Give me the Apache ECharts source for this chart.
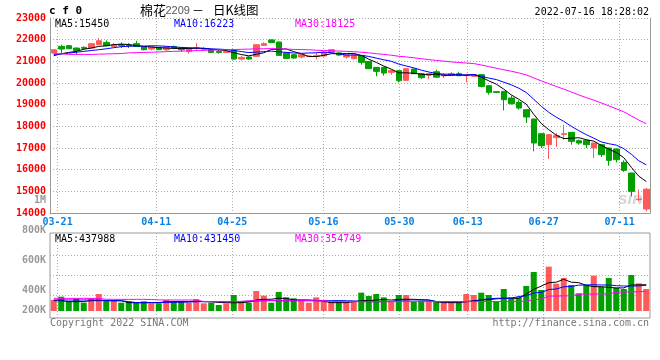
<!DOCTYPE html>
<html><head><meta charset="utf-8">
<script src="https://cdn.jsdelivr.net/npm/echarts@6.0.0/dist/echarts.min.js"></script>
<style>html,body{margin:0;padding:0;background:#fff}#c{width:660px;height:360px}</style>
</head><body><div id="c"></div>
<script>
const dates = ['03-18','03-21','03-22','03-23','03-24','03-25','03-28','03-29','03-30','03-31',
'04-01','04-06','04-07','04-08','04-11','04-12','04-13','04-14','04-15','04-18',
'04-19','04-20','04-21','04-22','04-25','04-26','04-27','04-28','04-29','05-05',
'05-06','05-09','05-10','05-11','05-12','05-13','05-16','05-17','05-18','05-19',
'05-20','05-23','05-24','05-25','05-26','05-27','05-30','05-31','06-01','06-02',
'06-06','06-07','06-08','06-09','06-10','06-13','06-14','06-15','06-16','06-17',
'06-20','06-21','06-22','06-23','06-24','06-27','06-28','06-29','06-30','07-01',
'07-04','07-05','07-06','07-07','07-08','07-11','07-12','07-13','07-14','07-15'];
const dateLabels = ['03-21','04-11','04-25','05-16','05-30','06-13','06-27','07-11'];

const opens = [21383,21690,21721,21613,21644,21613,21767,21874,21690,21767,
21750,21813,21659,21567,21644,21536,21690,21613,21459,21600,
21560,21536,21460,21413,21505,21105,21198,21229,21736,21990,
21892,21384,21305,21198,21220,21230,21245,21428,21390,21200,
21122,21260,20999,20722,20722,20491,20568,20122,20645,20430,
20370,20520,20330,20368,20430,20340,20306,20383,19875,19600,
19614,19306,19106,18768,18337,17660,17153,17476,17630,17722,
17337,17353,17000,17153,17000,16953,16337,15845,14620,14184];
const closes = [21536,21567,21582,21505,21600,21813,21951,21721,21767,21721,
21721,21690,21536,21659,21536,21659,21600,21536,21613,21620,
21590,21413,21413,21460,21105,21182,21105,21767,21813,21870,
21275,21136,21151,21305,21250,21260,21413,21536,21290,21290,
21306,20953,20660,20537,20460,20583,20107,20660,20430,20245,
20440,20270,20380,20430,20337,20370,20383,19844,19568,19567,
19229,19045,18845,18429,17230,17107,17614,17568,17660,17306,
17230,17153,17230,16691,16430,16460,15968,15000,14645,15100];
const lows = [21370,21352,21560,21305,21536,21600,21750,21690,21660,21613,
21613,21660,21505,21505,21520,21459,21560,21444,21352,21505,
21500,21380,21352,21380,21075,21044,21075,21198,21720,21860,
21260,21121,21120,21136,21200,21090,21229,21410,21259,21130,
21100,20845,20640,20306,20337,20380,20030,20100,20410,20180,
20180,20250,20230,20350,20320,20030,20290,19800,19460,19530,
18737,19000,18770,18152,16845,17000,16491,17045,17384,17153,
17150,16998,16537,16584,16183,16337,15900,14769,14538,14076];
const highs = [21550,21767,21740,21644,21690,21830,22074,21967,21844,21874,
21844,21951,21690,21670,21660,21690,21720,21660,21630,21844,
21660,21560,21505,21500,21567,21259,21229,21800,21880,22020,
21905,21400,21320,21320,21280,21400,21420,21560,21413,21300,
21320,21275,21010,20730,20740,20614,20580,20680,20660,20445,
20460,20614,20460,20510,20520,20430,20400,20400,19890,19620,
19630,19420,19200,18780,18350,17680,17630,17691,18076,17740,
17400,17370,17245,17170,17010,16970,16430,15860,15076,15154];

const ma5 = [21260,21350,21410,21460,21558,21613,21690,21718,21770,21795,
21776,21724,21687,21665,21628,21616,21598,21598,21589,21606,
21592,21554,21530,21499,21396,21315,21253,21324,21394,21547,
21566,21572,21449,21347,21223,21220,21276,21353,21350,21358,
21367,21275,21100,20949,20783,20639,20469,20469,20448,20405,
20376,20409,20353,20353,20371,20357,20380,20273,20100,19946,
19718,19451,19251,19023,18556,18131,17845,17590,17436,17451,
17476,17383,17316,17122,16947,16793,16556,16110,15701,15450];
const ma10 = [21320,21340,21380,21420,21459,21500,21536,21580,21630,21676,
21695,21707,21703,21718,21712,21696,21661,21643,21627,21617,
21604,21576,21564,21544,21501,21453,21404,21427,21447,21472,
21440,21413,21386,21371,21385,21393,21424,21401,21349,21291,
21294,21275,21226,21150,21071,21003,20872,20785,20699,20594,
20508,20439,20411,20401,20388,20367,20395,20313,20227,20159,
20038,19915,19762,19562,19251,18925,18648,18420,18229,18003,
17803,17614,17453,17279,17199,17134,16970,16713,16411,16223];
const ma30 = [21350,21350,21320,21320,21320,21320,21330,21340,21350,21360,
21390,21400,21410,21420,21430,21450,21460,21470,21480,21495,
21510,21520,21530,21540,21545,21555,21565,21575,21580,21588,
21580,21565,21551,21544,21533,21514,21496,21490,21474,21460,
21446,21421,21392,21355,21319,21283,21233,21204,21165,21119,
21081,21042,21008,20974,20948,20921,20897,20833,20758,20681,
20613,20543,20466,20371,20237,20098,19972,19839,19718,19585,
19450,19323,19209,19080,18946,18809,18671,18482,18289,18125];

const volumes = [245600,287600,224600,266600,212000,266600,321200,245600,245600,212000,
224600,220400,228800,203600,203600,245600,233000,233000,212000,258200,
203600,212000,182600,203600,308600,224600,212000,359000,300200,212000,
346400,279200,266600,245600,212000,279200,224600,220400,228800,224600,
228800,338000,296000,321200,279200,224600,308600,308600,224600,237200,
237200,228800,224600,224600,228800,321200,308600,338000,308600,224600,
384200,279200,279200,422000,598400,371600,665600,451400,522800,434600,
329600,434600,552200,413600,522800,401000,384200,560600,455600,384200];
const volMa5 = [237000,236500,225000,224000,226000,237000,238000,237000,236000,237000,
212000,211000,212000,213000,212000,225000,224000,225000,226000,230000,
225000,224000,215000,212000,211000,212000,220000,246000,254000,255000,
267000,266000,246000,247000,246000,240000,230000,212000,213000,212000,
225000,237000,238000,245000,250000,245000,254000,255000,254000,250000,
245000,225000,212000,213000,212000,225000,237000,245000,250000,260000,
267000,268000,267000,321000,380000,420000,464000,470000,506000,470000,
464000,430000,414000,413000,405000,397000,398000,435000,436000,437988];
const volMa10 = [246000,245000,246000,244000,246000,245000,244000,240000,237000,236000,
225000,213000,212000,211000,212000,215000,218000,218000,220000,224000,
225000,225000,224000,225000,226000,228000,230000,233000,237000,238000,
237000,236000,237000,238000,237000,237000,236000,237000,238000,236000,
234000,226000,225000,224000,225000,226000,244000,246000,247000,246000,
244000,226000,224000,225000,224000,225000,228000,250000,260000,267000,
268000,267000,290000,298000,335000,340000,378000,384000,412000,416000,
433000,436000,437000,435000,434000,426000,422000,421000,424000,431450];
const volMa30 = [267000,267000,266000,266000,267000,266000,265000,255000,254000,254000,
253000,254000,254000,252000,247000,246000,246000,245000,246000,245000,
226000,225000,225000,224000,225000,226000,236000,237000,237000,238000,
237000,237000,236000,237000,237000,236000,236000,226000,225000,225000,
225000,224000,225000,225000,225000,225000,226000,225000,225000,224000,
225000,225000,225000,226000,225000,225000,225000,226000,226000,227000,
227000,228000,228000,230000,252000,255000,294000,296000,297000,298000,
318000,320000,321000,322000,323000,344000,346000,347000,350000,354749];

const volTickValues = [1000000, 800000, 600000, 400000, 200000];
const volTickLabels = ['1M', '800K', '600K', '400K', '200K'];

const UP = '#ff5a5a', DOWN = '#00a000';
const GRID_LINE = { color: '#aaaaaa', type: [1, 2], width: 1 };
const AXIS_LINE = { color: '#999999', width: 1 };
const MONO = '"DejaVu Sans Mono", "Liberation Mono", monospace';
const volLabelFloor = 266667; // lowest label is pinned inside the panel
const volLabelPos = volTickValues.map(v => Math.max(v, volLabelFloor));
const showDate = (i, v) => dateLabels.includes(v);
const last = a => a[a.length - 1];

const chart = echarts.init(document.getElementById('c'), null, { renderer: 'canvas' });

function txt(x, y, text, fill, font, align, extra) {
  return Object.assign({
    type: 'text', x: x, y: y, z: 100, silent: true,
    style: { text: text, fill: fill, font: font, textAlign: align || 'left', align: align || 'left',
      textVerticalAlign: 'middle', verticalAlign: 'middle' }
  }, extra || {});
}

const option = {
  animation: false,
  backgroundColor: '#ffffff',
  grid: [
    { left: 50, top: 18, width: 600, height: 195, outerBoundsMode: 'none', containLabel: false },
    { left: 50, top: 234, width: 600, height: 77, outerBoundsMode: 'none', containLabel: false },
    { left: 50, top: 233, width: 600, height: 85, outerBoundsMode: 'none', containLabel: false,
      show: true, borderColor: '#999999', borderWidth: 1, backgroundColor: 'transparent' },
    { left: 50, top: 234.6, width: 600, height: 80.8, outerBoundsMode: 'none', containLabel: false },
    { left: 50, top: 170.7, width: 600, height: 180, outerBoundsMode: 'none', containLabel: false }
  ],
  xAxis: [
    { type: 'category', gridIndex: 0, data: dates, boundaryGap: true, show: false },
    { type: 'category', gridIndex: 0, data: dates, boundaryGap: false, position: 'bottom',
      axisLine: { show: true, lineStyle: AXIS_LINE }, axisTick: { show: false },
      axisLabel: { show: true, interval: showDate, color: '#0a80e0', fontFamily: MONO, fontSize: 10,
        fontWeight: 'bold', margin: 4, hideOverlap: false },
      splitLine: { show: true, interval: showDate, lineStyle: GRID_LINE } },
    { type: 'category', gridIndex: 1, data: dates, boundaryGap: true, show: false },
    { type: 'category', gridIndex: 2, data: dates, boundaryGap: false,
      axisLine: { show: false }, axisTick: { show: false }, axisLabel: { show: false },
      splitLine: { show: true, interval: showDate, lineStyle: GRID_LINE } },
    { type: 'category', gridIndex: 3, data: dates, show: false },
    { type: 'category', gridIndex: 4, data: dates, show: false }
  ],
  yAxis: [
    { type: 'value', gridIndex: 0, min: 14000, max: 23000, interval: 1000,
      axisLine: { show: true, lineStyle: AXIS_LINE }, axisTick: { show: false },
      axisLabel: { color: '#ff0000', fontFamily: MONO, fontSize: 10, fontWeight: 'bold', margin: 4,
        padding: [0, 0, 4, 0], formatter: v => String(v) },
      splitLine: { show: true, lineStyle: GRID_LINE } },
    { type: 'value', gridIndex: 0, position: 'right', min: 0, max: 1,
      axisLine: { show: true, lineStyle: AXIS_LINE }, axisTick: { show: false },
      axisLabel: { show: false }, splitLine: { show: false } },
    { type: 'value', gridIndex: 1, min: 107000, max: 1077000, show: false, splitLine: { show: false } },
    { type: 'value', gridIndex: 2, min: 0, max: 1, show: false, splitLine: { show: false } },
    { type: 'value', gridIndex: 3, min: 0, max: 4, interval: 1,
      axisLine: { show: false }, axisTick: { show: false }, axisLabel: { show: false },
      splitLine: { show: true, showMinLine: false, showMaxLine: false, lineStyle: GRID_LINE } },
    { type: 'value', gridIndex: 4, min: 0, max: 1200000,
      axisLine: { show: false }, axisTick: { show: false }, splitLine: { show: false },
      axisLabel: { show: true, customValues: volLabelPos, color: '#999999', fontFamily: MONO,
        fontSize: 10, fontWeight: 'bold', margin: 4, showMinLabel: true, showMaxLabel: true,
        formatter: function (val) {
          const k = volLabelPos.findIndex(p => Math.abs(p - val) < 1);
          return k >= 0 ? volTickLabels[k] : '';
        } } }
  ],
  series: [
    { type: 'candlestick', name: 'K', xAxisIndex: 0, yAxisIndex: 0, barWidth: 6,
      data: opens.map((o, i) => [o, closes[i], lows[i], highs[i]]),
      itemStyle: { color: UP, color0: DOWN, borderColor: UP, borderColor0: DOWN, borderWidth: 1 } },
    { type: 'line', name: 'MA5', xAxisIndex: 0, yAxisIndex: 0, data: ma5, symbol: 'none',
      lineStyle: { color: '#000000', width: 1 }, z: 3 },
    { type: 'line', name: 'MA10', xAxisIndex: 0, yAxisIndex: 0, data: ma10, symbol: 'none',
      lineStyle: { color: '#0000ff', width: 1 }, z: 3 },
    { type: 'line', name: 'MA30', xAxisIndex: 0, yAxisIndex: 0, data: ma30, symbol: 'none',
      lineStyle: { color: '#ff00ff', width: 1 }, z: 3 },
    { type: 'bar', name: 'VOL', xAxisIndex: 2, yAxisIndex: 2, barWidth: 6, clip: true,
      data: volumes.map((v, i) => ({ value: v, itemStyle: { color: closes[i] >= opens[i] ? UP : DOWN } })) },
    { type: 'line', name: 'VMA5', xAxisIndex: 2, yAxisIndex: 2, data: volMa5, symbol: 'none',
      lineStyle: { color: '#000000', width: 1 }, z: 3 },
    { type: 'line', name: 'VMA10', xAxisIndex: 2, yAxisIndex: 2, data: volMa10, symbol: 'none',
      lineStyle: { color: '#0000ff', width: 1 }, z: 3 },
    { type: 'line', name: 'VMA30', xAxisIndex: 2, yAxisIndex: 2, data: volMa30, symbol: 'none',
      lineStyle: { color: '#ff00ff', width: 1 }, z: 3 }
  ],
  graphic: [
    txt(49, 11.5, 'c f 0', '#000000', 'bold 11px ' + MONO),
    txt(140, 10, '棉花', '#000000', '13px "Noto Sans CJK SC"'),
    txt(165.5, 10.5, '2209', '#555555', '11px "Liberation Sans"'),
    txt(198, 10, '－', '#000000', '12px "Noto Sans CJK SC"', 'center'),
    txt(213, 10, '日K线图', '#000000', '12.5px "Noto Sans CJK SC"'),
    txt(649, 12, '2022-07-16 18:28:02', '#000000', '10px ' + MONO, 'right'),
    txt(55, 24, 'MA5:' + last(ma5), '#000000', '10px ' + MONO),
    txt(174, 24, 'MA10:' + last(ma10), '#0000ff', '10px ' + MONO),
    txt(295, 24, 'MA30:' + last(ma30), '#ff00ff', '10px ' + MONO),
    txt(55, 239, 'MA5:' + last(volMa5), '#000000', '10px ' + MONO),
    txt(174, 239, 'MA10:' + last(volMa10), '#0000ff', '10px ' + MONO),
    txt(295, 239, 'MA30:' + last(volMa30), '#ff00ff', '10px ' + MONO),
    txt(50, 323.5, 'Copyright 2022 SINA.COM', '#777777', '10px ' + MONO),
    txt(649, 323.5, 'http://finance.sina.com.cn', '#777777', '10px ' + MONO, 'right'),
    txt(618, 199, 'sina', 'rgba(160,160,160,0.45)', 'italic bold 17px "Liberation Sans"', 'left', { z: 0 })
  ]
};
chart.setOption(option);
</script>
</body></html>
